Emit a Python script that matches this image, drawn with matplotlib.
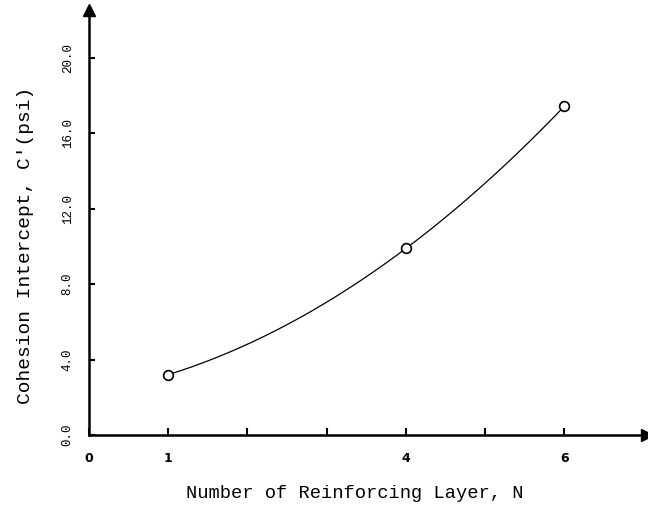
import numpy as np
import matplotlib.pyplot as plt

# data
layers = [1, 4, 6]
cohesion = [3.2, 9.9, 17.45]
x_ticks = [0, 1, 2, 3, 4, 5, 6]
x_tick_labels = ['0', '1', '', '', '4', '', '6']
y_ticks = [0, 4, 8, 12, 16, 20]
y_tick_labels = ['0.0', '4.0', '8.0', '12.0', '16.0', '20.0']

mono = 'Liberation Mono'

fig = plt.figure(figsize=(6.48, 5.16), dpi=100)
ax = fig.add_axes([0.1373, 0.157, 0.861, 0.8236])

# smooth curve through the three points
coef = np.polyfit(layers, cohesion, 2)
xs = np.linspace(layers[0], layers[-1], 200)
ax.plot(xs, np.polyval(coef, xs), color='black', lw=0.9)
ax.plot(layers, cohesion, 'o', mfc='white', mec='black', ms=7, mew=1.2, zorder=3)

ax.set_xlim(0, 7.04)
ax.set_ylim(0, 22.55)

for s in ['top', 'right']:
    ax.spines[s].set_visible(False)
for s in ['left', 'bottom']:
    ax.spines[s].set_linewidth(1.8)

# arrow heads at the ends of the axes
ax.plot(1, 0, '>k', ms=9, transform=ax.get_yaxis_transform(), clip_on=False)
ax.plot(0, 1, '^k', ms=9, transform=ax.get_xaxis_transform(), clip_on=False)

ax.set_xticks(x_ticks, x_tick_labels)
ax.set_yticks(y_ticks, y_tick_labels)
ax.tick_params(axis='x', direction='in', length=5, width=1.5, pad=12)
ax.tick_params(axis='y', direction='in', length=4, width=1.5, pad=11)
for lab in ax.get_xticklabels():
    lab.set_fontweight('bold')
    lab.set_fontsize(9)
for lab in ax.get_yticklabels():
    lab.set_rotation(90)
    lab.set_fontfamily(mono)
    lab.set_fontsize(9)
    lab.set_verticalalignment('center')

fig.text(26 / 648, 1 - 245 / 516, "Cohesion Intercept, C'(psi)", rotation=90,
         ha='center', va='center', fontfamily=mono, fontsize=14)
fig.text(355 / 648, 1 - 494 / 516, "Number of Reinforcing Layer, N",
         ha='center', va='center', fontfamily=mono, fontsize=13.5)

fig.savefig('out.png', dpi=100)
